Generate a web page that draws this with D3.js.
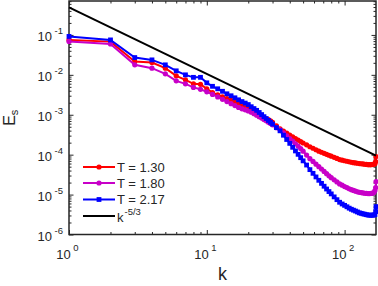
<!DOCTYPE html>
<html><head><meta charset="utf-8">
<script src="https://cdn.jsdelivr.net/npm/d3@7/dist/d3.min.js"></script>
<style>body{margin:0;background:#fff}svg{display:block}text{font-family:"Liberation Sans",Arial,Helvetica,sans-serif}</style>
</head><body>
<svg id="c" width="378" height="286"></svg>
<script>
// ---- data ----
const kVals = [1,2,3,4,5,6,7,8,9,10,11,12,13,14,15,16,17,18,19,20,21,22,23,24,25,26,27,28,29,30,
  32,34,36,38,40,42,44,46,48,50,53,56,59,62,65,68,71,74,77,80,
  84,88,92,96,100,104,108,112,116,120,124,128,132,136,140,144,148,152,156,160,163,166,168,169];
const eT130 = [7.50e-2,6.80e-2,2.15e-2,2.03e-2,1.47e-2,9.44e-3,7.50e-3,5.96e-3,5.79e-3,4.47e-3,
  3.59e-3,3.16e-3,2.82e-3,2.54e-3,2.30e-3,2.05e-3,1.85e-3,1.68e-3,1.52e-3,1.40e-3,
  1.27e-3,1.14e-3,1.03e-3,9.33e-4,8.76e-4,8.32e-4,7.90e-4,7.54e-4,7.08e-4,6.42e-4,
  5.31e-4,4.44e-4,3.91e-4,3.47e-4,3.09e-4,2.79e-4,2.53e-4,2.32e-4,2.13e-4,1.96e-4,
  1.76e-4,1.58e-4,1.45e-4,1.33e-4,1.22e-4,1.15e-4,1.08e-4,1.02e-4,9.66e-5,9.17e-5,
  8.56e-5,8.04e-5,7.54e-5,7.29e-5,7.04e-5,6.84e-5,6.64e-5,6.46e-5,6.31e-5,6.20e-5,
  6.10e-5,5.99e-5,5.92e-5,5.85e-5,5.75e-5,5.69e-5,5.62e-5,5.62e-5,5.62e-5,5.69e-5,
  5.75e-5,5.96e-5,6.68e-5,8.91e-5];
const eT180 = [6.88e-2,5.96e-2,1.78e-2,1.47e-2,1.06e-2,7.08e-3,5.96e-3,4.84e-3,4.34e-3,3.76e-3,
  3.24e-3,2.79e-3,2.43e-3,2.14e-3,1.89e-3,1.70e-3,1.53e-3,1.41e-3,1.33e-3,1.25e-3,
  1.16e-3,1.06e-3,9.72e-4,8.96e-4,8.27e-4,7.59e-4,7.04e-4,6.53e-4,6.06e-4,5.59e-4,
  4.76e-4,4.19e-4,3.51e-4,2.97e-4,2.54e-4,2.18e-4,1.88e-4,1.64e-4,1.42e-4,1.22e-4,
  9.77e-5,7.94e-5,6.76e-5,5.79e-5,5.01e-5,4.37e-5,3.80e-5,3.35e-5,2.95e-5,2.66e-5,
  2.34e-5,2.08e-5,1.85e-5,1.72e-5,1.59e-5,1.50e-5,1.40e-5,1.33e-5,1.27e-5,1.22e-5,
  1.17e-5,1.14e-5,1.12e-5,1.10e-5,1.08e-5,1.07e-5,1.06e-5,1.06e-5,1.07e-5,1.09e-5,
  1.12e-5,1.26e-5,1.50e-5,2.11e-5];
const eT217 = [9.17e-2,7.50e-2,2.71e-2,2.37e-2,1.78e-2,1.26e-2,1.00e-2,8.66e-3,8.66e-3,6.31e-3,
  5.16e-3,4.47e-3,3.87e-3,3.35e-3,2.99e-3,2.66e-3,2.37e-3,2.14e-3,1.96e-3,1.80e-3,
  1.59e-3,1.43e-3,1.29e-3,1.14e-3,1.01e-3,8.96e-4,8.04e-4,7.20e-4,6.49e-4,5.85e-4,
  4.76e-4,3.96e-4,3.07e-4,2.40e-4,1.92e-4,1.53e-4,1.24e-4,1.02e-4,8.41e-5,7.00e-5,
  5.50e-5,4.22e-5,3.41e-5,2.77e-5,2.28e-5,1.91e-5,1.62e-5,1.38e-5,1.19e-5,1.04e-5,
  8.76e-6,7.46e-6,6.42e-6,5.82e-6,5.37e-6,4.95e-6,4.57e-6,4.29e-6,4.07e-6,3.87e-6,
  3.67e-6,3.49e-6,3.39e-6,3.29e-6,3.22e-6,3.14e-6,3.07e-6,3.05e-6,3.04e-6,3.05e-6,
  3.07e-6,3.16e-6,3.76e-6,5.01e-6];
const refK = [1, 169];
const refE = [0.49, 9.5e-5];
const seriesNames = ["T = 1.30", "T = 1.80", "T = 2.17"];
const refName = ["k", "-5/3"];
const xTickVals = [1, 10, 100];
const xTickExp = ["0", "1", "2"];
const yTickVals = [1e-6, 1e-5, 1e-4, 1e-3, 1e-2, 1e-1];
const yTickExp = ["-6", "-5", "-4", "-3", "-2", "-1"];
const xLabel = "k";
const yLabel = ["E", "s"];

// ---- layout ----
const L = 69, R = 376, T = 1, B = 234.5;
const axisCol = "#262626";
const svg = d3.select("#c");
const x = d3.scaleLog().domain([1, 169]).range([L, R]);
const y = d3.scaleLog().domain([1e-6, 0.708]).range([B, T]);

const isPow = v => Math.abs(Math.log10(v) - Math.round(Math.log10(v))) < 1e-9;
const xMinor = x.ticks().filter(v => !isPow(v));
const yMinor = y.ticks().filter(v => !isPow(v));

function tickAxis(gen, tr, vals, size) {
  const g = svg.append("g").attr("transform", tr)
    .call(gen.tickValues(vals).tickSize(size).tickSizeOuter(0).tickFormat(""));
  g.select(".domain").remove();
  g.selectAll("line").attr("stroke", axisCol).attr("stroke-width", 1);
}
tickAxis(d3.axisBottom(x), `translate(0,${B})`, xTickVals, -4.5);
tickAxis(d3.axisBottom(x), `translate(0,${B})`, xMinor, -2.5);
tickAxis(d3.axisTop(x), `translate(0,${T})`, xTickVals, -4.5);
tickAxis(d3.axisTop(x), `translate(0,${T})`, xMinor, -2.5);
tickAxis(d3.axisLeft(y), `translate(${L},0)`, yTickVals, -4.5);
tickAxis(d3.axisLeft(y), `translate(${L},0)`, yMinor, -2.5);
tickAxis(d3.axisRight(y), `translate(${R},0)`, yTickVals, -4.5);
tickAxis(d3.axisRight(y), `translate(${R},0)`, yMinor, -2.5);

svg.append("rect").attr("x", L).attr("y", T).attr("width", R - L).attr("height", B - T)
  .attr("fill", "none").attr("stroke", axisCol).attr("stroke-width", 1.5);

// tick labels
xTickVals.forEach((v, i) => {
  const t = svg.append("text").attr("x", x(v) - 1.5).attr("y", 258.5)
    .attr("text-anchor", "middle").attr("fill", axisCol).attr("font-size", 13);
  t.append("tspan").text("10");
  t.append("tspan").attr("dx", 2.5).attr("dy", -7.5).attr("font-size", 9.5).text(xTickExp[i]);
});
yTickVals.forEach((v, i) => {
  const t = svg.append("text").attr("x", 63).attr("y", y(v) + 6.5)
    .attr("text-anchor", "end").attr("fill", axisCol).attr("font-size", 13);
  t.append("tspan").text("10");
  t.append("tspan").attr("dx", 2.5).attr("dy", -7).attr("font-size", 9.5).text(yTickExp[i]);
});

// axis labels
svg.append("text").attr("x", (L + R) / 2).attr("y", 280).attr("text-anchor", "middle")
  .attr("font-size", 18).attr("fill", axisCol).text(xLabel);
const yl = svg.append("text").attr("transform", `translate(15,${(T + B) / 2}) rotate(-90)`)
  .attr("text-anchor", "middle").attr("font-size", 16).attr("fill", axisCol);
yl.append("tspan").text(yLabel[0]);
yl.append("tspan").attr("dy", 3).attr("font-size", 11).text(yLabel[1]);

// series
const series = [
  {vals: eT130, color: "#ff0000", shape: "circle"},
  {vals: eT180, color: "#c800c8", shape: "circle"},
  {vals: eT217, color: "#0000ff", shape: "square"}
];
const line = d3.line().x(d => x(d[0])).y(d => y(d[1]));
function marker(g, shape, color, cx, cy) {
  if (shape === "circle") g.append("circle").attr("cx", cx).attr("cy", cy).attr("r", 2.6).attr("fill", color);
  else g.append("rect").attr("x", cx - 2.4).attr("y", cy - 2.4).attr("width", 4.8).attr("height", 4.8).attr("fill", color);
}
series.forEach(s => {
  const pts = kVals.map((k, i) => [k, s.vals[i]]);
  svg.append("path").datum(pts).attr("d", line).attr("fill", "none")
    .attr("stroke", s.color).attr("stroke-width", 2);
  const g = svg.append("g");
  pts.forEach(p => marker(g, s.shape, s.color, x(p[0]), y(p[1])));
});
svg.append("path").datum(refK.map((k, i) => [k, refE[i]])).attr("d", line)
  .attr("fill", "none").attr("stroke", "#000").attr("stroke-width", 2);

// legend
const rows = [167, 183, 199.5, 216];
series.forEach((s, i) => {
  const r = rows[i];
  svg.append("line").attr("x1", 83).attr("x2", 115).attr("y1", r).attr("y2", r)
    .attr("stroke", s.color).attr("stroke-width", 2);
  marker(svg, s.shape, s.color, 99, r);
  svg.append("text").attr("x", 117).attr("y", r + 4.7).attr("font-size", 13)
    .attr("fill", axisCol).text(seriesNames[i]);
});
svg.append("line").attr("x1", 83).attr("x2", 115).attr("y1", rows[3]).attr("y2", rows[3])
  .attr("stroke", "#000").attr("stroke-width", 2);
const lt = svg.append("text").attr("x", 117).attr("y", rows[3] + 6).attr("font-size", 13).attr("fill", axisCol);
lt.append("tspan").text(refName[0]);
lt.append("tspan").attr("dx", 1).attr("dy", -7).attr("font-size", 9.5).text(refName[1]);
</script>
</body></html>
